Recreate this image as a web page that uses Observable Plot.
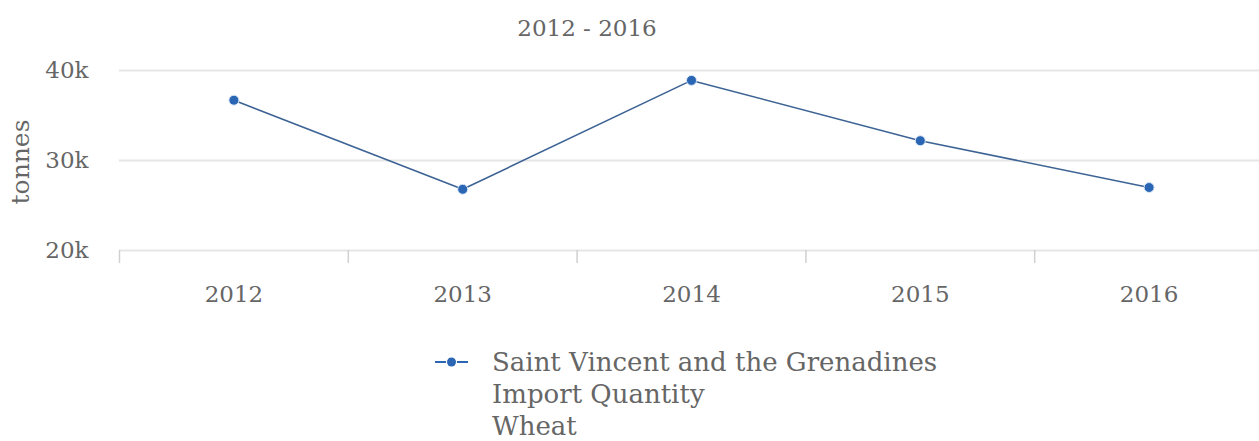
<!DOCTYPE html>
<html>
<head>
<meta charset="utf-8">
<script src="https://cdn.jsdelivr.net/npm/d3@7"></script>
<script src="https://cdn.jsdelivr.net/npm/@observablehq/plot@0.6"></script>
<style>
  html, body { margin: 0; padding: 0; background: #fff; }
  body { width: 1259px; height: 441px; position: relative; overflow: hidden; font-family: "DejaVu Serif", serif; color: #666; }
  #title { position: absolute; top: 13px; left: 587px; transform: translateX(-50%); font-size: 23px; line-height: 30px; white-space: nowrap; }
  #chart { position: absolute; top: 0; left: 0; }
  #ylabel { position: absolute; left: 21px; top: 162px; transform: translate(-50%, -50%) rotate(-90deg); font-size: 25px; line-height: 30px; white-space: nowrap; }
  #legend { position: absolute; top: 346px; left: 435px; font-size: 26px; line-height: 32px; }
  #legend .row { display: flex; align-items: flex-start; white-space: nowrap; }
  #legend .key { width: 57px; height: 32px; flex: none; }
</style>
</head>
<body>
<div id="chart"></div>
<div id="title"></div>
<div id="ylabel"></div>
<div id="legend"></div>
<script>
const years = [2012, 2013, 2014, 2015, 2016];
const values = [36700, 26800, 38900, 32200, 27000];
const yTicks = [20000, 30000, 40000];
const yTickLabels = ["20k", "30k", "40k"];
const titleText = "2012 - 2016";
const yLabel = "tonnes";
const legendLines = ["Saint Vincent and the Grenadines", "Import Quantity", "Wheat"];
const color = "#2a66b4";

const data = years.map((y, i) => ({year: y, value: values[i]}));
const bounds = years.map(y => y - 0.5).concat([years[years.length - 1] + 0.5]);

document.getElementById("title").textContent = titleText;
document.getElementById("ylabel").textContent = yLabel;

const plot = Plot.plot({
  width: 1259,
  height: 310,
  marginTop: 70,
  marginBottom: 60,
  marginLeft: 119,
  marginRight: 0,
  style: {fontFamily: "DejaVu Serif, serif", fontSize: "23px", color: "#666", background: "transparent"},
  x: {type: "linear", domain: [bounds[0], bounds[bounds.length - 1]], range: [119, 1263]},
  y: {domain: [20000, 40000]},
  marks: [
    Plot.ruleY(yTicks, {stroke: "#e6e6e6", strokeWidth: 2}),
    Plot.axisY({ticks: yTicks, tickSize: 0, tickPadding: 31, tickFormat: (d) => yTickLabels[yTicks.indexOf(d)], fill: "#666", label: null}),
    Plot.axisX({ticks: bounds, tickSize: 13, tickFormat: () => "", stroke: "#d0d0d0", strokeWidth: 1.5, label: null}),
    Plot.axisX({ticks: years, tickSize: 0, tickPadding: 35, tickFormat: d3.format("d"), fill: "#666", label: null}),
    Plot.line(data, {x: "year", y: "value", stroke: "#3d6394", strokeWidth: 1.6}),
    Plot.dot(data, {x: "year", y: "value", r: 5, fill: color, stroke: "#dbe8f7", strokeWidth: 1})
  ]
});
document.getElementById("chart").appendChild(plot);

const legend = document.getElementById("legend");
legendLines.forEach((t, i) => {
  const row = document.createElement("div");
  row.className = "row";
  const key = document.createElementNS("http://www.w3.org/2000/svg", "svg");
  key.setAttribute("class", "key");
  key.setAttribute("width", 57);
  key.setAttribute("height", 32);
  if (i === 0) {
    key.innerHTML = `<line x1="0" x2="11" y1="16" y2="16" stroke="${color}" stroke-width="2"/><line x1="22" x2="33" y1="16" y2="16" stroke="${color}" stroke-width="2"/><circle cx="16.5" cy="16" r="4.5" fill="${color}"/>`;
  }
  row.appendChild(key);
  const span = document.createElement("span");
  span.textContent = t;
  row.appendChild(span);
  legend.appendChild(row);
});
</script>
</body>
</html>
